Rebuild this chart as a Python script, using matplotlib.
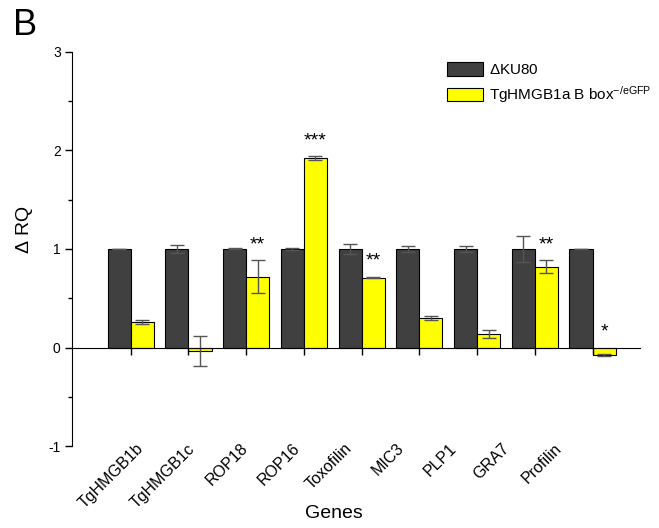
import matplotlib.pyplot as plt
import matplotlib.transforms as mtransforms
import numpy as np

plt.rcParams["font.family"] = ["Liberation Sans", "DejaVu Sans"]
plt.rcParams["mathtext.default"] = "regular"
plt.rcParams["axes.unicode_minus"] = False

# ------------------------------------------------------------
# data
# ------------------------------------------------------------
genes = ["TgHMGB1b", "TgHMGB1c", "ROP18", "ROP16", "Toxofilin",
         "MIC3", "PLP1", "GRA7", "Profilin"]
ku80_rq = [1.0, 1.0, 1.0, 1.0, 1.0, 1.0, 1.0, 1.0, 1.0]
ku80_err = [0.0, 0.04, 0.005, 0.01, 0.055, 0.03, 0.03, 0.135, 0.0]
bbox_rq = [0.26, -0.035, 0.72, 1.92, 0.71, 0.295, 0.14, 0.82, -0.075]
bbox_err = [0.02, 0.15, 0.165, 0.02, 0.005, 0.02, 0.04, 0.065, 0.01]
stars = ["", "", "**", "***", "**", "", "", "**", "*"]

DARK = "#404040"
YELLOW = "#ffff00"
W = 0.4
# gene labels in the original sit on a slightly tighter pitch than the bars
LABEL_X0, LABEL_STEP = 0.17, 0.906

fig = plt.figure(figsize=(6.59, 5.28), dpi=100)
ax = fig.add_axes([0.109, 0.155, 0.862, 0.747])

x = np.arange(len(genes))
ekw = dict(ecolor="#555555", elinewidth=1.0, capthick=1.0)
ax.bar(x - W / 2, ku80_rq, W, yerr=ku80_err, color=DARK, edgecolor="black",
       linewidth=0.8, capsize=5, error_kw=ekw, label=r"$\Delta$KU80")
ax.bar(x + W / 2, bbox_rq, W, yerr=bbox_err, color=YELLOW, edgecolor="black",
       linewidth=0.8, capsize=5, error_kw=ekw,
       label="TgHMGB1a B box$^{-/eGFP}$")

for xi, v, e, s in zip(x, bbox_rq, bbox_err, stars):
    if s:
        ax.text(xi + W / 2, max(v + e, 0) + 0.16, s, ha="center", va="center",
                fontsize=14)

ax.set_xlim(-1.02, 8.82)
ax.set_ylim(-1, 3)
ax.set_yticks([-1, 0, 1, 2, 3])
ax.set_yticks(np.arange(-1, 3.01, 0.5), minor=True)
ax.tick_params(axis="y", which="major", length=5, width=1, labelsize=10,
               pad=3)
ax.tick_params(axis="y", which="minor", length=3, width=1)

# category ticks sit on the zero line, labels under the plot area
ax.spines["bottom"].set_position(("data", 0))
ax.spines["top"].set_visible(False)
ax.spines["right"].set_visible(False)
ax.set_xticks(x)
ax.tick_params(axis="x", length=5, width=1, labelbottom=False)

blend = mtransforms.blended_transform_factory(ax.transData, ax.transAxes)
for i, g in enumerate(genes):
    ax.text(LABEL_X0 + LABEL_STEP * i, 0.0, g, transform=blend, rotation=45,
            ha="right", va="center", rotation_mode="anchor", fontsize=11.5)

ax.set_ylabel(r"$\Delta$ RQ", fontsize=14)
ax.yaxis.set_label_coords(-0.065, 0.548)
fig.text(334 / 659, 1 - 513 / 528, "Genes", ha="center", va="center",
         fontsize=14)
fig.text(0.02, 0.985, "B", ha="left", va="top", fontsize=26)

ax.legend(loc="upper left", bbox_to_anchor=(0.657, 0.908),
          bbox_transform=fig.transFigure, frameon=False, fontsize=11,
          handlelength=2.4, handleheight=1.0, labelspacing=0.45,
          handletextpad=0.35)

fig.savefig("out.png", dpi=100)
